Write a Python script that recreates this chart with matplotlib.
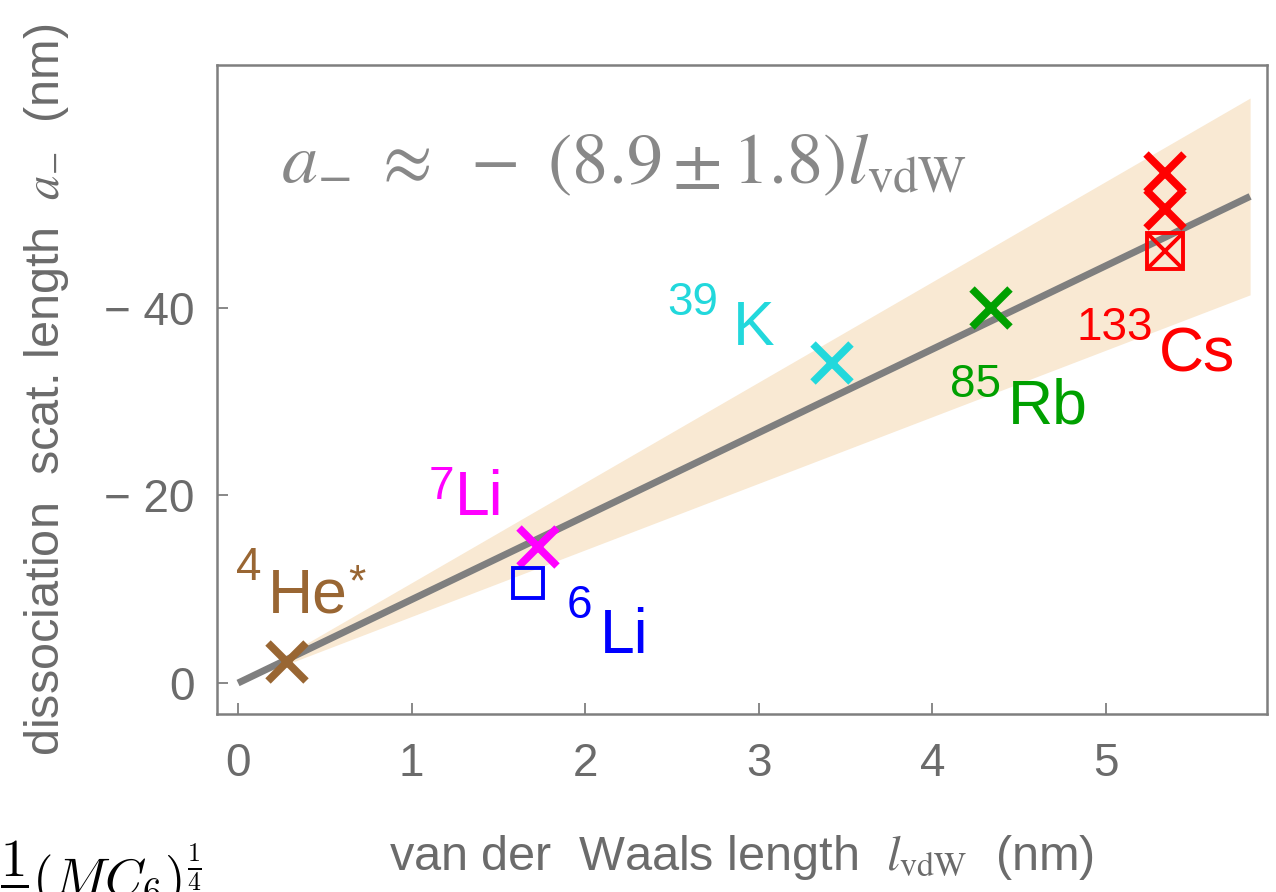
import matplotlib.pyplot as plt
import numpy as np

plt.rcParams['font.family'] = ['Liberation Sans', 'DejaVu Sans']
plt.rcParams['mathtext.fontset'] = 'stix'

# van der Waals length (nm) and dissociation scattering length a_- (nm)
cross_x = [0.28, 1.73, 3.42, 4.34, 5.34, 5.34]
cross_y = [-2.2, -14.5, -34.1, -40.0, -54.4, -50.5]
cross_c = ['#996633', '#ff00ff', '#22d8dc', '#00a000', '#ff0000', '#ff0000']

square_x = [1.67, 5.34]
square_y = [-10.7, -46.1]
square_c = ['#0000ff', '#ff0000']

slope = 8.9
slope_err = 1.8
fit_xmax = 5.83

# element labels: (mass number, symbol, colour, sup x, sup y, sym x, sym y)
labels = [
    ('4', 'He', '#996633', -0.01, -11.0, 0.173, -7.5),
    ('7', 'Li', '#ff00ff', 1.10, -19.6, 1.25, -17.9),
    ('6', 'Li', '#0000ff', 1.89, -6.9, 2.085, -3.2),
    ('39', 'K', '#22d8dc', 2.47, -39.2, 2.851, -36.0),
    ('85', 'Rb', '#00a000', 4.10, -30.5, 4.435, -27.7),
    ('133', 'Cs', '#ff0000', 4.83, -36.6, 5.305, -33.2),
]

gray = '#7f7f7f'
fig = plt.figure(figsize=(12.76, 8.92), dpi=100)
ax = fig.add_axes([0.1701, 0.1996, 0.8228, 0.7275])

xf = np.linspace(0, fit_xmax, 200)
ax.fill_between(xf, -(slope - slope_err) * xf, -(slope + slope_err) * xf,
                color='#f9e9d3', lw=0, zorder=1)
ax.plot(xf, -slope * xf, color=gray, lw=5, solid_capstyle='butt', zorder=2)

for x, y, c in zip(cross_x, cross_y, cross_c):
    ax.plot(x, y, marker='x', ms=27, mew=5.5, color=c, zorder=4)
sq_size = [22, 26]
for x, y, c, ms in zip(square_x, square_y, square_c, sq_size):
    ax.plot(x, y, marker='s', ms=ms, mew=2.8, mfc='none', mec=c, zorder=4)
# Cs point drawn as boxed cross
ax.plot(square_x[1], square_y[1], marker='x', ms=24, mew=2.8, color='#ff0000', zorder=4)

for sup, sym, c, sx, sy, ex, ey in labels:
    ax.text(sx, sy, sup, color=c, fontsize=33, ha='left', va='baseline')
    ax.text(ex, ey, sym, color=c, fontsize=45, ha='left', va='baseline')
ax.text(0.635, -9.4, '*', color='#996633', fontsize=32, ha='left', va='baseline')

ax.text(0.25, -53.3, r'$a_{-}\ \approx\ -\ (8.9\pm1.8)l_{\mathrm{vdW}}$',
        color='#888888', fontsize=52, ha='left', va='baseline')

ax.set_xlim(-0.121, 5.927)
ax.set_ylim(3.3, -65.9)
ax.set_xticks([0, 1, 2, 3, 4, 5])
ax.set_yticks([0, -20, -40])
ax.set_yticklabels(['0', '\u2212 20', '\u2212 40'])

for s in ax.spines.values():
    s.set_color(gray)
    s.set_linewidth(1.8)
ax.tick_params(direction='in', length=8, width=1.3, color=gray,
               labelcolor='#6b6b6b', labelsize=33)
ax.tick_params(axis='x', pad=20)
ax.tick_params(axis='y', pad=16)

ax.set_xlabel(r'van der  Waals length  $l_{\mathrm{vdW}}$  (nm)', color='#6b6b6b',
              fontsize=35, labelpad=34)
ax.set_ylabel(r'dissociation  scat. length  $a_{-}$  (nm)', color='#6b6b6b',
              fontsize=35, labelpad=24)

# clipped fragment of a neighbouring formula
fig.text(0.0, -0.005, r'$\dfrac{1}{2}(MC_6)^{\frac{1}{4}}$', color='black',
         fontsize=38, ha='left', va='baseline', math_fontfamily='cm')

fig.savefig('out.png', dpi=100)
